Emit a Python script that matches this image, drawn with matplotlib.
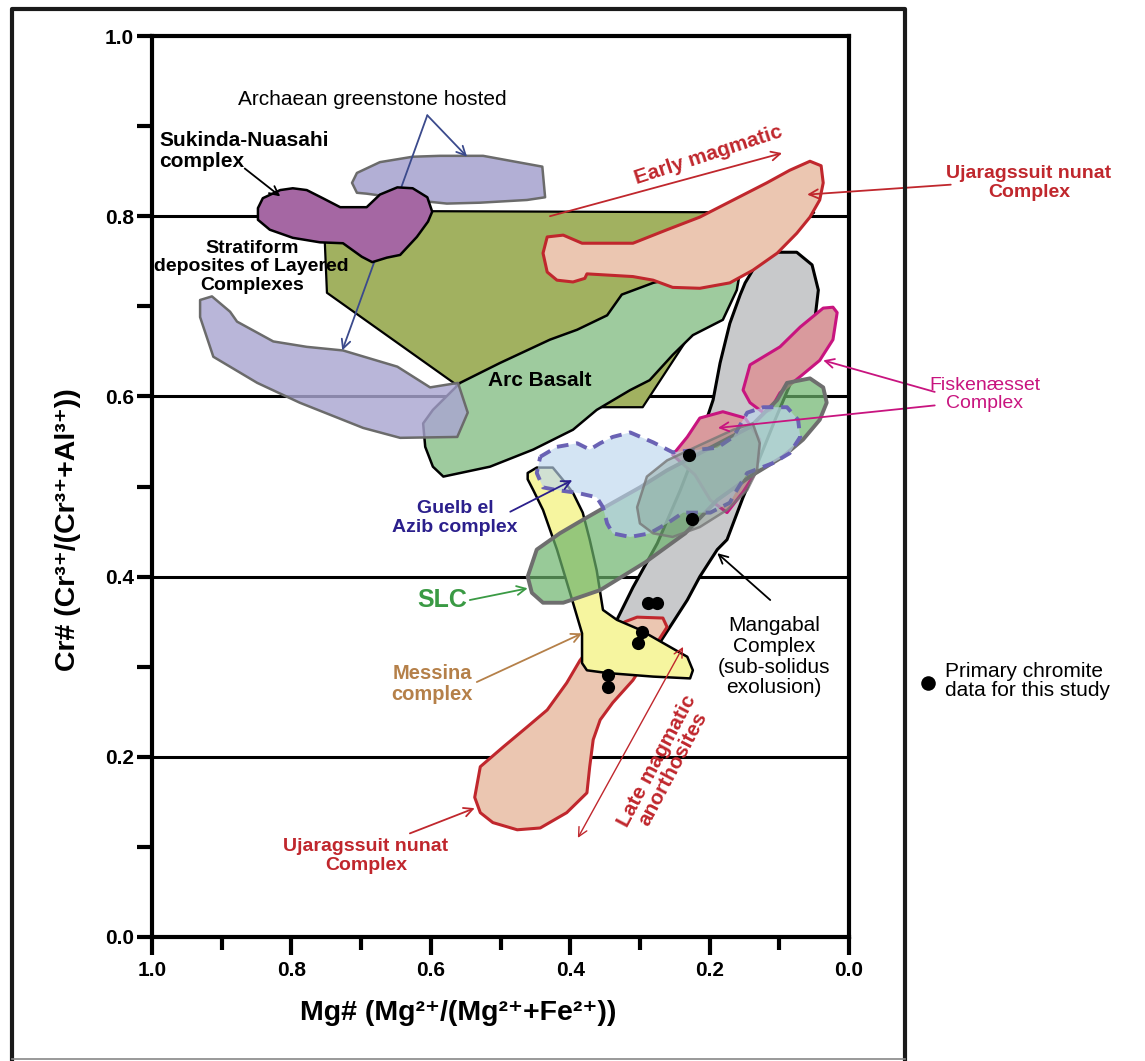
import matplotlib
matplotlib.use("Agg")
import matplotlib.pyplot as plt
from matplotlib.patches import Polygon
from matplotlib.lines import Line2D
from matplotlib.colors import to_rgba

plt.rcParams['font.family'] = ['Liberation Sans', 'DejaVu Sans']

# fields, (Mg#, Cr#)
archaean_upper = [(0.713, 0.837), (0.706, 0.848), (0.673, 0.860), (0.626, 0.866), (0.587, 0.867),
                  (0.525, 0.867), (0.440, 0.855), (0.436, 0.821), (0.462, 0.818), (0.529, 0.815),
                  (0.577, 0.814), (0.626, 0.818), (0.692, 0.825), (0.706, 0.826)]
archaean_lower = [(0.931, 0.707), (0.914, 0.711), (0.888, 0.694), (0.878, 0.683), (0.826, 0.661),
                  (0.778, 0.655), (0.726, 0.651), (0.648, 0.633), (0.601, 0.610), (0.561, 0.615),
                  (0.547, 0.582), (0.562, 0.555), (0.644, 0.554), (0.697, 0.565), (0.788, 0.593),
                  (0.849, 0.615), (0.912, 0.644), (0.931, 0.688)]
stratiform = [(0.756, 0.806), (0.752, 0.770), (0.749, 0.715), (0.558, 0.610), (0.472, 0.588),
              (0.296, 0.588), (0.214, 0.685), (0.149, 0.746), (0.050, 0.804)]
sukinda = [(0.848, 0.809), (0.841, 0.820), (0.816, 0.829), (0.798, 0.831), (0.778, 0.829),
           (0.755, 0.820), (0.730, 0.810), (0.692, 0.810), (0.673, 0.824), (0.648, 0.832),
           (0.626, 0.831), (0.605, 0.821), (0.598, 0.805), (0.604, 0.794), (0.620, 0.777),
           (0.644, 0.757), (0.663, 0.754), (0.684, 0.749), (0.699, 0.755), (0.726, 0.770),
           (0.759, 0.771), (0.798, 0.776), (0.831, 0.785), (0.848, 0.796)]
arc_basalt = [(0.558, 0.615), (0.501, 0.637), (0.429, 0.663), (0.390, 0.674), (0.347, 0.690),
              (0.326, 0.713), (0.281, 0.726), (0.214, 0.738), (0.156, 0.740), (0.161, 0.718),
              (0.181, 0.685), (0.224, 0.668), (0.253, 0.646), (0.286, 0.618), (0.314, 0.607),
              (0.362, 0.585), (0.396, 0.563), (0.453, 0.541), (0.515, 0.522), (0.582, 0.511),
              (0.597, 0.522), (0.608, 0.544), (0.611, 0.570), (0.597, 0.585)]
ujar_upper = [(0.433, 0.777), (0.410, 0.779), (0.383, 0.770), (0.310, 0.770), (0.261, 0.785),
              (0.214, 0.799), (0.166, 0.818), (0.118, 0.837), (0.085, 0.851), (0.056, 0.861),
              (0.040, 0.856), (0.037, 0.837), (0.042, 0.818), (0.056, 0.799), (0.075, 0.781),
              (0.103, 0.759), (0.138, 0.740), (0.171, 0.726), (0.214, 0.720), (0.253, 0.721),
              (0.281, 0.729), (0.310, 0.733), (0.376, 0.736), (0.379, 0.731), (0.396, 0.727),
              (0.419, 0.729), (0.433, 0.738), (0.439, 0.759)]
mangabal = [(0.149, 0.726), (0.132, 0.748), (0.106, 0.760), (0.075, 0.760), (0.053, 0.746),
            (0.044, 0.718), (0.049, 0.685), (0.070, 0.640), (0.106, 0.574), (0.132, 0.524),
            (0.152, 0.488), (0.175, 0.441), (0.189, 0.430), (0.214, 0.400), (0.232, 0.374),
            (0.257, 0.344), (0.278, 0.319), (0.343, 0.319), (0.333, 0.352), (0.310, 0.388),
            (0.275, 0.437), (0.242, 0.496), (0.214, 0.552), (0.195, 0.596), (0.185, 0.637),
            (0.171, 0.681), (0.156, 0.713)]
fisk_upper = [(0.152, 0.607), (0.142, 0.635), (0.099, 0.655), (0.070, 0.677), (0.037, 0.698),
              (0.023, 0.699), (0.017, 0.693), (0.023, 0.663), (0.042, 0.640), (0.070, 0.622),
              (0.099, 0.604), (0.113, 0.585), (0.123, 0.582), (0.142, 0.593)]
fisk_lower = [(0.253, 0.535), (0.232, 0.555), (0.214, 0.576), (0.181, 0.583), (0.149, 0.576),
              (0.128, 0.552), (0.132, 0.518), (0.152, 0.494), (0.175, 0.471), (0.199, 0.485),
              (0.221, 0.513)]
ujar_lower = [(0.321, 0.350), (0.304, 0.355), (0.267, 0.354), (0.261, 0.344), (0.271, 0.332),
              (0.310, 0.285), (0.339, 0.260), (0.357, 0.241), (0.367, 0.219), (0.372, 0.189),
              (0.376, 0.160), (0.405, 0.138), (0.443, 0.121), (0.476, 0.119), (0.511, 0.127),
              (0.529, 0.138), (0.537, 0.155), (0.529, 0.189), (0.496, 0.211), (0.462, 0.233),
              (0.433, 0.252), (0.405, 0.282), (0.386, 0.307), (0.367, 0.326), (0.339, 0.341)]
messina = [(0.461, 0.515), (0.448, 0.521), (0.425, 0.521), (0.410, 0.507), (0.396, 0.493),
           (0.382, 0.471), (0.372, 0.441), (0.362, 0.407), (0.353, 0.363), (0.333, 0.352),
           (0.300, 0.341), (0.232, 0.311), (0.224, 0.296), (0.228, 0.287), (0.281, 0.289),
           (0.347, 0.293), (0.376, 0.296), (0.383, 0.304), (0.383, 0.337), (0.396, 0.371),
           (0.410, 0.407), (0.419, 0.430), (0.439, 0.474), (0.453, 0.496), (0.461, 0.508)]
slc = [(0.461, 0.400), (0.448, 0.430), (0.415, 0.448), (0.382, 0.463), (0.339, 0.482),
       (0.300, 0.499), (0.261, 0.518), (0.199, 0.543), (0.142, 0.566), (0.103, 0.596),
       (0.089, 0.615), (0.056, 0.620), (0.037, 0.610), (0.032, 0.593), (0.042, 0.574),
       (0.066, 0.552), (0.095, 0.533), (0.142, 0.511), (0.189, 0.485), (0.235, 0.448),
       (0.292, 0.416), (0.357, 0.385), (0.410, 0.371), (0.439, 0.371), (0.455, 0.382)]
overlap_field = [(0.304, 0.477), (0.290, 0.511), (0.261, 0.529), (0.214, 0.546), (0.166, 0.563),
                 (0.138, 0.570), (0.128, 0.548), (0.132, 0.518), (0.146, 0.496), (0.175, 0.474),
                 (0.214, 0.455), (0.253, 0.444), (0.281, 0.448), (0.300, 0.459)]
guelb = [(0.443, 0.533), (0.419, 0.544), (0.390, 0.548), (0.372, 0.541), (0.357, 0.548),
         (0.339, 0.555), (0.314, 0.560), (0.281, 0.549), (0.253, 0.538), (0.189, 0.543),
         (0.166, 0.555), (0.146, 0.582), (0.123, 0.588), (0.089, 0.588), (0.073, 0.574),
         (0.070, 0.555), (0.085, 0.537), (0.109, 0.526), (0.146, 0.515), (0.161, 0.496),
         (0.171, 0.482), (0.199, 0.471), (0.238, 0.471), (0.261, 0.459), (0.286, 0.448),
         (0.314, 0.444), (0.339, 0.448), (0.347, 0.459), (0.353, 0.477), (0.362, 0.488),
         (0.390, 0.493), (0.419, 0.496), (0.439, 0.499), (0.448, 0.515)]

# primary chromite analyses of this study
chromite_mg = [0.230, 0.225, 0.288, 0.275, 0.297, 0.303, 0.346, 0.346]
chromite_cr = [0.535, 0.464, 0.371, 0.371, 0.339, 0.326, 0.291, 0.277]

grid_levels = [0.2, 0.4, 0.6, 0.8]
y_major = [0.0, 0.2, 0.4, 0.6, 0.8, 1.0]
y_minor = [0.1, 0.3, 0.5, 0.7, 0.9]
x_major = [1.0, 0.8, 0.6, 0.4, 0.2, 0.0]
x_minor = [0.9, 0.7, 0.5, 0.3, 0.1]

RED = '#c0272d'
MAGENTA = '#c8147f'

fig = plt.figure(figsize=(11.45, 10.61), dpi=100)
ax = fig.add_axes([152 / 1145, 1 - 937 / 1061, 697 / 1145, 901 / 1061])
ax.set_xlim(1.0, 0.0)
ax.set_ylim(0.0, 1.0)

for g in grid_levels:
    ax.axhline(g, color='black', lw=2.2, zorder=0.5)


def field(pts, fc, ec, lw, z, alpha=1.0, ls='-'):
    ax.add_patch(Polygon(pts, closed=True, facecolor=to_rgba(fc, alpha), edgecolor=ec,
                         lw=lw, zorder=z, linestyle=ls, joinstyle='round'))


field(stratiform, '#a1b160', 'black', 1.6, 1)
field(arc_basalt, '#9ecb9e', 'black', 1.8, 2)
field(mangabal, '#c8c9cb', 'black', 2.2, 2.5)
field(archaean_upper, '#aaa6d1', '#6b6b6b', 1.8, 3, 0.9)
field(archaean_lower, '#aaa6d1', '#6b6b6b', 1.8, 3, 0.82)
field(sukinda, '#a567a3', 'black', 1.8, 4)
field(ujar_upper, '#ebc6b1', RED, 2.2, 5)
field(fisk_upper, '#d99a9d', MAGENTA, 2.2, 5)
field(ujar_lower, '#ebc6b1', RED, 2.2, 3)
field(messina, '#f6f59f', 'black', 1.8, 4)
field(fisk_lower, '#d99a9d', MAGENTA, 2.2, 4.5)
field(slc, '#6db46d', '#6e6e6e', 2.8, 6, 0.7)
field(guelb, '#bcd6ee', '#6a62b4', 2.8, 7, 0.65, (0, (3, 2)))
field(overlap_field, '#6f8a78', to_rgba('#777777', 0.8), 1.8, 7.5, 0.3)

ax.scatter(chromite_mg, chromite_cr, s=90, color='black', zorder=10, linewidths=0)


def arrow(start, end, color, z=9, style='->', lw=1.3):
    ax.annotate('', xy=end, xytext=start, annotation_clip=False, zorder=z,
                arrowprops=dict(arrowstyle=style, color=color, lw=lw, shrinkA=0, shrinkB=0,
                                mutation_scale=16))


# labels and leaders
ax.text(0.684, 0.929, 'Archaean greenstone hosted', ha='center', va='center', fontsize=15, zorder=9)
arrow((0.605, 0.912), (0.548, 0.866), '#3b4a8c', z=3.5)
arrow((0.605, 0.912), (0.727, 0.651), '#3b4a8c', z=3.5)

ax.text(0.990, 0.872, 'Sukinda-Nuasahi\ncomplex', ha='left', va='center', fontsize=15,
        fontweight='bold', linespacing=1.15, zorder=9)
arrow((0.867, 0.853), (0.816, 0.822), 'black')

ax.text(0.857, 0.744, 'Stratiform\ndeposites of Layered\nComplexes', ha='center', va='center',
        fontsize=14, fontweight='bold', linespacing=1.12, zorder=9)

ax.text(0.202, 0.868, 'Early magmatic', ha='center', va='center', fontsize=15, fontweight='bold',
        color=RED, rotation=18, zorder=9)
arrow((0.429, 0.800), (0.096, 0.870), RED)

ax.text(-0.258, 0.837, 'Ujaragssuit nunat\nComplex', ha='center', va='center', fontsize=14,
        fontweight='bold', color=RED, linespacing=1.1)
arrow((-0.146, 0.835), (0.060, 0.824), RED)

ax.text(0.443, 0.618, 'Arc Basalt', ha='center', va='center', fontsize=15, fontweight='bold', zorder=9)

ax.text(-0.195, 0.602, 'Fiskenæsset\nComplex', ha='center', va='center', fontsize=14,
        color=MAGENTA, linespacing=1.1)
arrow((-0.123, 0.605), (0.037, 0.640), MAGENTA)
arrow((-0.123, 0.590), (0.188, 0.565), MAGENTA)

ax.text(0.565, 0.465, 'Guelb el\nAzib complex', ha='center', va='center', fontsize=14,
        fontweight='bold', color='#2b1f8c', linespacing=1.1, zorder=9)
arrow((0.486, 0.472), (0.397, 0.507), '#2b1f8c')

ax.text(0.584, 0.374, 'SLC', ha='center', va='center', fontsize=18, fontweight='bold',
        color='#3a9a44', zorder=9)
arrow((0.544, 0.374), (0.461, 0.387), '#3a9a44')

ax.text(0.598, 0.281, 'Messina\ncomplex', ha='center', va='center', fontsize=14.5,
        fontweight='bold', color='#b58049', linespacing=1.1, zorder=9)
arrow((0.534, 0.283), (0.383, 0.337), '#b58049')

ax.text(0.108, 0.311, 'Mangabal\nComplex\n(sub-solidus\nexolusion)', ha='center', va='center',
        fontsize=15, linespacing=1.12, zorder=9)
arrow((0.113, 0.374), (0.189, 0.426), 'black')

ax.text(0.264, 0.191, 'Late magmatic\nanorthosites', ha='center', va='center', fontsize=15,
        fontweight='bold', color=RED, rotation=62, linespacing=1.0, zorder=9)
arrow((0.389, 0.110), (0.238, 0.322), RED, style='<->', lw=1.0)

ax.text(0.693, 0.090, 'Ujaragssuit nunat\nComplex', ha='center', va='center', fontsize=14,
        fontweight='bold', color=RED, linespacing=1.1, zorder=9)
arrow((0.630, 0.115), (0.537, 0.143), RED)

# key for the dots, outside the frame
ax.scatter([-0.113], [0.282], s=110, color='black', clip_on=False, linewidths=0)
ax.text(-0.138, 0.284, 'Primary chromite\ndata for this study', ha='left', va='center',
        fontsize=15, linespacing=1.05)

# axes styling
for side in ['left', 'right', 'top', 'bottom']:
    ax.spines[side].set_linewidth(3)
ax.set_yticks(y_major)
ax.set_yticks(y_minor, minor=True)
ax.set_yticklabels(['%.1f' % v for v in y_major])
ax.set_xticks(x_major)
ax.set_xticks(x_minor, minor=True)
ax.set_xticklabels(['%.1f' % v for v in x_major])
ax.tick_params(axis='y', which='both', direction='out', length=11, width=3, labelsize=15, pad=2)
ax.tick_params(axis='x', which='major', direction='out', length=13, width=3, labelsize=15, pad=4)
ax.tick_params(axis='x', which='minor', direction='out', length=9, width=3)
for lbl in ax.get_xticklabels() + ax.get_yticklabels():
    lbl.set_fontweight('bold')

fig.text(68 / 1145, 1 - 530 / 1061, 'Cr# (Cr³⁺/(Cr³⁺+Al³⁺))', rotation=90,
         ha='center', va='center', fontsize=20.5, fontweight='bold')
fig.text(458 / 1145, 1 - 1013 / 1061, 'Mg# (Mg²⁺/(Mg²⁺+Fe²⁺))',
         ha='center', va='center', fontsize=20.5, fontweight='bold')

# outer frame around the diagram
fx0, fx1 = 12 / 1145, 905 / 1145
fy0, fy1 = 1 - 1059 / 1061, 1 - 9 / 1061
fig.add_artist(Line2D([fx0, fx0, fx1, fx1], [fy0, fy1, fy1, fy0], color='#1a1a1a', lw=3,
                      transform=fig.transFigure))
fig.add_artist(Line2D([fx0, fx1], [fy0, fy0], color='#888888', lw=1.2, transform=fig.transFigure))

fig.savefig('out.png', dpi=100, facecolor='white')
